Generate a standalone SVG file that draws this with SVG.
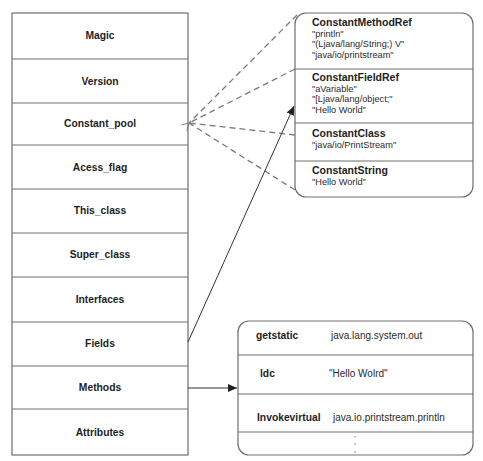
<svg xmlns="http://www.w3.org/2000/svg" width="483" height="461" viewBox="0 0 483 461">
<defs>
<style>
.box{fill:#fff;stroke:#6e6e6e;stroke-width:1.2}
.div{stroke:#6e6e6e;stroke-width:1.2}
.b{font-family:"Liberation Sans",Arial,sans-serif;font-weight:bold;font-size:10.3px;fill:#1e1e1e}
.h{font-family:"Liberation Sans",Arial,sans-serif;font-weight:bold;font-size:10.5px;fill:#1e1e1e}
.t{font-family:"Liberation Sans",Arial,sans-serif;font-size:9.2px;fill:#2a2a2a}
.u{font-family:"Liberation Sans",Arial,sans-serif;font-size:10px;fill:#2a2a2a}
.c{text-anchor:middle}
.dash{stroke:#7a7a7a;stroke-width:1.3;stroke-dasharray:6,4;fill:none}
.solid{stroke:#333;stroke-width:1;fill:none}
</style>
<marker id="arr" markerWidth="10" markerHeight="8" refX="9" refY="4" orient="auto" markerUnits="userSpaceOnUse">
<path d="M0,0 L9,4 L0,8 z" fill="#222"/>
</marker>
<marker id="open" markerWidth="10" markerHeight="10" refX="1" refY="5" orient="auto" markerUnits="userSpaceOnUse">
<path d="M8,1 L1,5 L8,9" fill="none" stroke="#777" stroke-width="1"/>
</marker>
</defs>
<rect width="483" height="461" fill="#fff"/>
<g id="classfile">
<rect class="box" x="12" y="13" width="176" height="442"/>
<line class="div" x1="12" y1="59" x2="188" y2="59"/>
<line class="div" x1="12" y1="103" x2="188" y2="103"/>
<line class="div" x1="12" y1="145" x2="188" y2="145"/>
<line class="div" x1="12" y1="189" x2="188" y2="189"/>
<line class="div" x1="12" y1="233" x2="188" y2="233"/>
<line class="div" x1="12" y1="277" x2="188" y2="277"/>
<line class="div" x1="12" y1="322" x2="188" y2="322"/>
<line class="div" x1="12" y1="366" x2="188" y2="366"/>
<line class="div" x1="12" y1="409" x2="188" y2="409"/>
<text class="b c" x="100" y="39">Magic</text>
<text class="b c" x="100" y="85">Version</text>
<text class="b c" x="100" y="127">Constant_pool</text>
<text class="b c" x="100" y="171">Acess_flag</text>
<text class="b c" x="100" y="214">This_class</text>
<text class="b c" x="100" y="258">Super_class</text>
<text class="b c" x="100" y="303">Interfaces</text>
<text class="b c" x="100" y="347">Fields</text>
<text class="b c" x="100" y="391">Methods</text>
<text class="b c" x="100" y="436">Attributes</text>
</g>
<g id="constantpool">
<rect class="box" x="295" y="13" width="178" height="184" rx="11" ry="11"/>
<line class="div" x1="295" y1="69" x2="473" y2="69"/>
<line class="div" x1="295" y1="123" x2="473" y2="123"/>
<line class="div" x1="295" y1="161" x2="473" y2="161"/>
<text class="h" x="312" y="26">ConstantMethodRef</text>
<text class="t" x="312" y="36.5">"println"</text>
<text class="t" x="312" y="47">"(Ljava/lang/String;) V"</text>
<text class="t" x="312" y="57.5">"java/io/printstream"</text>
<text class="h" x="312" y="81">ConstantFieldRef</text>
<text class="t" x="312" y="91.5">"aVariable"</text>
<text class="t" x="312" y="102">"[Ljava/lang/object;"</text>
<text class="t" x="312" y="112.5">"Hello World"</text>
<text class="h" x="312" y="137">ConstantClass</text>
<text class="t" x="312" y="148">"java/io/PrintStream"</text>
<text class="h" x="312" y="174">ConstantString</text>
<text class="t" x="312" y="185">"Hello World"</text>
</g>
<g id="bytecode">
<rect class="box" x="238" y="321" width="235" height="134" rx="11" ry="11"/>
<line class="div" x1="238" y1="355" x2="473" y2="355"/>
<line class="div" x1="238" y1="394" x2="473" y2="394"/>
<line class="div" x1="238" y1="432" x2="473" y2="432"/>
<text class="b" x="256" y="339">getstatic</text>
<text class="u" x="331" y="339">java.lang.system.out</text>
<text class="b" x="260" y="377">ldc</text>
<text class="u" x="329" y="377">"Hello Wolrd"</text>
<text class="b" x="257" y="421">Invokevirtual</text>
<text class="u" x="333" y="421">java.io.printstream.println</text>
<g fill="#888">
<circle cx="355" cy="437" r="0.8"/>
<circle cx="355" cy="444" r="0.8"/>
<circle cx="355" cy="452" r="0.8"/>
</g>
</g>
<g id="connectors">
<line class="dash" x1="297" y1="15" x2="189" y2="123" marker-end="url(#open)"/>
<line class="dash" x1="295" y1="69" x2="189" y2="123"/>
<line class="dash" x1="295" y1="135" x2="189" y2="123"/>
<line class="dash" x1="295" y1="190" x2="189" y2="123"/>
<line class="solid" x1="188" y1="342" x2="294" y2="106" marker-end="url(#arr)"/>
<line class="solid" x1="188" y1="388" x2="237" y2="388" marker-end="url(#arr)"/>
</g>
</svg>
